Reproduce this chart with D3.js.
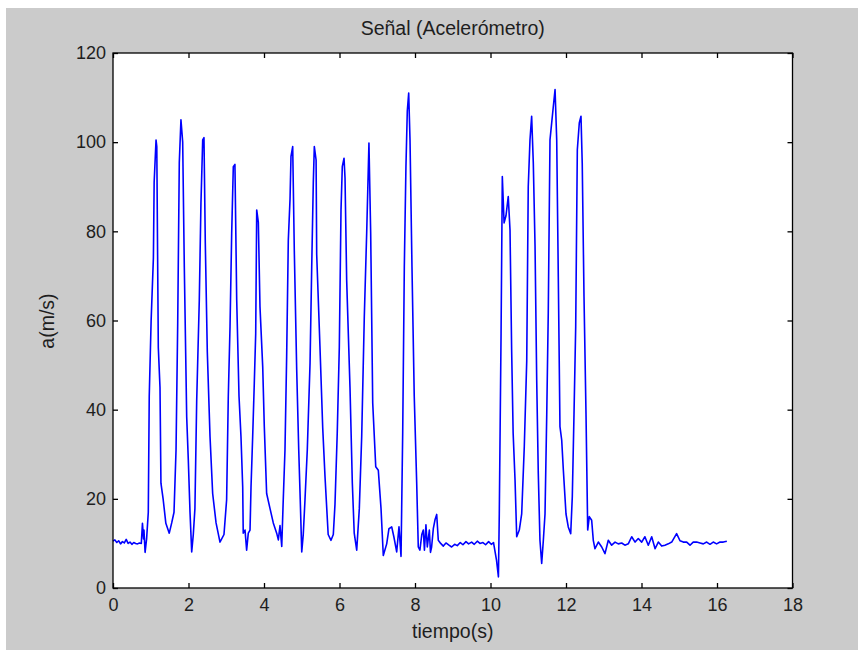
<!DOCTYPE html>
<html>
<head>
<meta charset="utf-8">
<script src="https://cdn.jsdelivr.net/npm/d3@7"></script>
<style>
  body { margin: 0; background: #fff; }
  text { font-family: "Liberation Sans", Arial, sans-serif; fill: #1e1e1e; }
</style>
</head>
<body>
<div id="chart"></div>
<script>
// tiempo (s) y aceleracion (m/s)
const tiempo = [
  0, 0.05, 0.1, 0.15, 0.2, 0.25, 0.3, 0.35, 0.4, 0.45, 0.5, 0.55, 0.6, 0.65, 0.7, 0.75,
  0.78, 0.81, 0.82, 0.85, 0.89, 0.935, 0.96, 1.01, 1.07, 1.09, 1.14, 1.16, 1.2, 1.245, 1.27,
  1.33, 1.4, 1.49, 1.555, 1.616, 1.67, 1.714, 1.756, 1.8, 1.846, 1.889, 1.952, 1.995, 2.04, 2.085,
  2.127, 2.17, 2.217, 2.286, 2.33, 2.376, 2.41, 2.445, 2.498, 2.57, 2.64, 2.73, 2.834, 2.94,
  3.01, 3.054, 3.1, 3.144, 3.187, 3.23, 3.277, 3.338, 3.39, 3.436, 3.45, 3.497, 3.54, 3.584,
  3.63, 3.656, 3.7, 3.743, 3.78, 3.807, 3.85, 3.894, 3.966, 4.008, 4.07, 4.16, 4.246, 4.336,
  4.38, 4.424, 4.47, 4.51, 4.556, 4.6, 4.644, 4.69, 4.715, 4.76, 4.803, 4.866, 4.92, 4.96, 5.0,
  5.04, 5.086, 5.147, 5.22, 5.264, 5.306, 5.333, 5.38, 5.396, 5.483, 5.555, 5.616, 5.7, 5.775,
  5.836, 5.88, 5.94, 5.995, 6.04, 6.074, 6.12, 6.146, 6.19, 6.278, 6.34, 6.39, 6.456, 6.525,
  6.588, 6.657, 6.72, 6.78, 6.826, 6.88, 6.96, 7.028, 7.1, 7.16, 7.25, 7.31, 7.383, 7.44, 7.515,
  7.576, 7.63, 7.674, 7.717, 7.76, 7.796, 7.833, 7.868, 7.92, 7.98, 8.045, 8.087, 8.13, 8.18,
  8.22, 8.25, 8.29, 8.326, 8.38, 8.41, 8.44, 8.485, 8.53, 8.575, 8.617, 8.68,
  8.75, 8.82, 8.9, 8.97, 9.05, 9.12, 9.2, 9.27, 9.35, 9.42, 9.5, 9.57, 9.65, 9.72, 9.8, 9.87,
  9.95, 10.02, 10.08, 10.16, 10.21, 10.233, 10.28, 10.313, 10.36, 10.41, 10.47, 10.517, 10.56,
  10.6, 10.65, 10.694, 10.763, 10.826, 10.895, 10.96, 11.0, 11.046, 11.09, 11.134, 11.18, 11.224,
  11.266, 11.31, 11.356, 11.4, 11.444, 11.49, 11.53, 11.576, 11.664, 11.71, 11.754, 11.796, 11.84,
  11.886, 11.93, 12.0, 12.06, 12.125, 12.167, 12.212, 12.257, 12.3, 12.352, 12.397, 12.43, 12.477,
  12.53, 12.575, 12.617, 12.68, 12.723, 12.768, 12.856, 12.946, 13.033, 13.12, 13.21, 13.3,
  13.385, 13.475, 13.56, 13.65, 13.74, 13.83, 13.915, 14.005, 14.09, 14.18, 14.27, 14.36, 14.445,
  14.535, 14.62, 14.71, 14.8, 14.93, 15.02, 15.107, 15.197, 15.285, 15.37, 15.46, 15.55, 15.637,
  15.727, 15.815, 15.9, 15.99, 16.08, 16.167, 16.26
];
const aceleracion = [
  10.5, 10.8, 10.2, 10.6, 9.9, 10.4, 10.1, 10.9, 10.0, 10.3, 9.8, 10.2, 10.0, 9.9, 10.1, 10.0,
  14.5, 11, 13, 8, 11, 17, 43, 60, 74, 91, 100.5, 99, 54, 45, 23.5,
  19.8, 14.5, 12.3, 14.6, 17, 31, 59.4, 95.4, 105, 100, 72, 38.4, 28.7, 17, 8.1,
  12, 17.8, 42, 64.6, 86.4, 100.5, 101, 77.4, 53, 34, 21.2, 14.6, 10.3, 12,
  19.8, 42.9, 58.6, 79.6, 94.5, 95, 64.6, 43, 34, 22.6, 12.3, 13, 8.5, 12.3,
  13, 22.6, 34, 46, 57, 84.8, 82, 63, 49.6, 36.2, 21.2, 17.8, 14.6, 12.3,
  10.8, 14, 9.3, 19.8, 31, 51.9, 78, 87.3, 96.8, 99, 75.6, 49, 31, 19.8, 8.1,
  12, 19.8, 31, 50.5, 72, 90.9, 99, 96, 74.8, 54, 36, 25, 12, 10.7,
  12, 18.7, 34.7, 54, 84.8, 94.5, 96.4, 92, 69, 45, 23.5, 12.3, 8.5, 17.8,
  34, 60.9, 79.6, 99.8, 79.6, 41.5, 27.2, 26.4, 17.8, 7.3, 9.9, 13.3, 13.7, 11.5, 8.1,
  13.7, 7.1, 34.7, 72, 94.5, 107, 111, 100.5, 72, 43, 23.5, 9.2, 8.5, 12,
  13, 8.5, 14.2, 9.2, 13, 8, 9.2, 13.3, 15.3, 16.5, 10.7, 10,
  9.4, 10.1, 9.6, 9.2, 9.8, 9.5, 10.2, 9.7, 10.4, 9.9, 10.3, 9.8, 10.5, 10.0, 10.2, 9.7,
  10.4, 9.8, 10.2, 6.2, 2.5, 16.7, 57.2, 92.3, 81.9, 83.5, 87.8, 80.3, 53.4,
  34.7, 24.2, 11.5, 13, 16.6, 31.7, 51, 90, 100.5, 105.8, 95.3, 76.6, 46.6,
  25.7, 10.7, 5.5, 10.7, 16.6, 39, 61.6, 100.5, 108, 111.8, 100.5, 69.8, 36.2,
  33.2, 26.4, 16.6, 13.7, 12.2, 20.5, 39, 58.6, 98.3, 104.3, 105.8, 95.3, 65.3,
  39, 13, 16, 15.2, 10.7, 8.8, 10.3, 9.2, 7.7, 10.7, 9.6, 10.3,
  9.9, 10.1, 9.6, 9.9, 11.5, 10.3, 11.1, 10.3, 11.5, 9.6, 11.5, 8.8, 10.3,
  9.4, 9.6, 9.9, 10.3, 12.2, 10.6, 10.3, 10.3, 9.6, 10.3, 10.3, 10.1, 9.9,
  10.3, 9.8, 10.3, 9.9, 10.3, 10.3, 10.5
];
const xTicks = [0, 2, 4, 6, 8, 10, 12, 14, 16, 18];
const yTicks = [0, 20, 40, 60, 80, 100, 120];

const width = 858, height = 650;
const margin = {top: 53, right: 65.5, bottom: 62, left: 113};
const graphWidth = width - margin.left - margin.right;
const graphHeight = height - margin.top - margin.bottom;

const svg = d3.select('#chart')
  .append('svg')
    .attr('width', width)
    .attr('height', height);

// fondo gris de la figura
svg.append('rect')
  .attr('x', 6).attr('y', 8)
  .attr('width', width - 6).attr('height', height - 8)
  .attr('fill', '#cbcbcb');

const graph = svg.append('g')
  .attr('transform', `translate(${margin.left},${margin.top})`);

graph.append('rect')
  .attr('width', graphWidth)
  .attr('height', graphHeight)
  .attr('fill', '#fff');

const x = d3.scaleLinear().domain([0, 18]).range([0, graphWidth]);
const y = d3.scaleLinear().domain([0, 120]).range([graphHeight, 0]);

const data = tiempo.map((t, i) => ({t: t, a: aceleracion[i]}));

const line = d3.line()
  .x(d => x(d.t))
  .y(d => y(d.a));

graph.append('path')
  .datum(data)
  .attr('fill', 'none')
  .attr('stroke', '#0000ff')
  .attr('stroke-width', 1.6)
  .attr('stroke-linejoin', 'round')
  .attr('d', line);

// ejes con marcas hacia dentro
const xAxisGroup = graph.append('g').attr('transform', `translate(0,${graphHeight})`);
const yAxisGroup = graph.append('g');
const topGroup = graph.append('g');
const rightGroup = graph.append('g').attr('transform', `translate(${graphWidth},0)`);

xAxisGroup.call(d3.axisBottom(x).tickValues(xTicks).tickSizeInner(-5).tickSizeOuter(0).tickPadding(10));
yAxisGroup.call(d3.axisLeft(y).tickValues(yTicks).tickSizeInner(-5).tickSizeOuter(0).tickPadding(7));
topGroup.call(d3.axisTop(x).tickValues(xTicks).tickSizeInner(-5).tickSizeOuter(0).tickFormat(''));
rightGroup.call(d3.axisRight(y).tickValues(yTicks).tickSizeInner(-5).tickSizeOuter(0).tickFormat(''));

graph.selectAll('.domain').remove();
graph.selectAll('.tick line').attr('stroke', '#000').attr('stroke-width', 1.3);
graph.selectAll('.tick text')
  .attr('font-size', 18)
  .attr('fill', '#1e1e1e')
  .attr('font-family', '"Liberation Sans", Arial, sans-serif');

graph.append('rect')
  .attr('width', graphWidth)
  .attr('height', graphHeight)
  .attr('fill', 'none')
  .attr('stroke', '#000')
  .attr('stroke-width', 1.3);

// textos
svg.append('text')
  .attr('x', margin.left + graphWidth / 2)
  .attr('y', 35)
  .attr('text-anchor', 'middle')
  .attr('font-size', 19.5)
  .text('Señal (Acelerómetro)');

svg.append('text')
  .attr('x', margin.left + graphWidth / 2)
  .attr('y', 638)
  .attr('text-anchor', 'middle')
  .attr('font-size', 19.5)
  .text('tiempo(s)');

svg.append('text')
  .attr('transform', 'translate(54,321) rotate(-90)')
  .attr('text-anchor', 'middle')
  .attr('font-size', 19.5)
  .text('a(m/s)');
</script>
</body>
</html>
